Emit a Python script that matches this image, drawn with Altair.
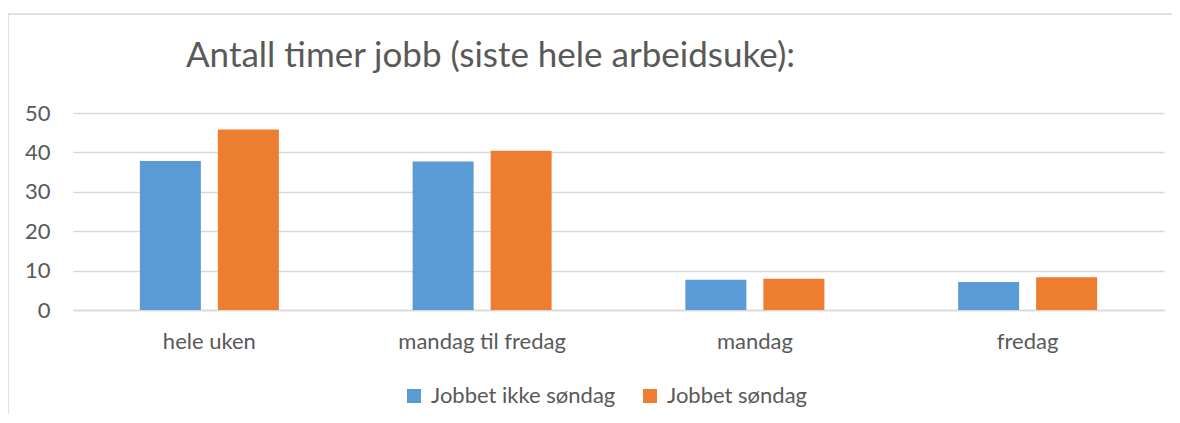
import altair as alt
import pandas as pd

categories = ["hele uken", "mandag til fredag", "mandag", "fredag"]
series = ["Jobbet ikke søndag", "Jobbet søndag"]
ikke_sondag = [37.8, 37.7, 7.7, 7.1]
sondag = [45.8, 40.4, 7.9, 8.3]
y_ticks = [0, 10, 20, 30, 40, 50]
colors = ["#5b9bd5", "#ed7d31"]
title_text = "Antall timer jobb (siste hele arbeidsuke):"

rows = []
for c, a, b in zip(categories, ikke_sondag, sondag):
    rows.append({"kategori": c, "serie": series[0], "timer": a})
    rows.append({"kategori": c, "serie": series[1], "timer": b})
df = pd.DataFrame(rows)

FONT = "Lato"
TXT = "#595959"
GRID = "#d9d9d9"

border = alt.Chart(pd.DataFrame({"a": [0]})).mark_rect(
    fill="transparent", stroke=GRID, strokeWidth=1.5
).encode(
    x=alt.value(-65), x2=alt.value(1120), y=alt.value(-99), y2=alt.value(330)
)

bars = alt.Chart(df).mark_bar().encode(
    x=alt.X(
        "kategori:N",
        sort=categories,
        scale=alt.Scale(paddingInner=0.4904, paddingOuter=0.2452),
        axis=alt.Axis(
            title=None, labelAngle=0, ticks=False, domain=True,
            domainColor=GRID, domainWidth=1.5, labelPadding=21,
            labelFontSize=22, labelColor=TXT, labelFont=FONT,
        ),
    ),
    xOffset=alt.XOffset(
        "serie:N", sort=series,
        scale=alt.Scale(paddingInner=0.218, paddingOuter=0),
    ),
    y=alt.Y(
        "timer:Q",
        scale=alt.Scale(domain=[0, 50]),
        axis=alt.Axis(
            values=y_ticks, title=None, ticks=False, domain=False,
            grid=True, gridColor=GRID, gridWidth=1.5, labelPadding=23,
            labelFontSize=22, labelColor=TXT, labelFont=FONT,
        ),
    ),
    color=alt.Color(
        "serie:N",
        sort=series,
        scale=alt.Scale(domain=series, range=colors),
        legend=alt.Legend(
            title=None, orient="none", direction="horizontal",
            legendX=330, legendY=272, symbolType="square", symbolSize=196,
            symbolStrokeWidth=0, labelFontSize=22, labelFont=FONT,
            labelColor=TXT, columnPadding=23, padding=0, labelOffset=6,
            labelLimit=400,
        ),
    ),
)

chart = alt.layer(border, bars).properties(
    width=1091,
    height=197,
    padding={"left": 65, "top": 105, "right": 8, "bottom": 104},
    autosize=alt.AutoSizeParams(type="none"),
    title=alt.Title(
        title_text, anchor="start", frame="group", dx=113,
        font=FONT, fontSize=35, fontWeight="normal", color=TXT,
        baseline="alphabetic", offset=-89,
    ),
).configure_view(stroke=None)

chart.save("out.html", embed_options={"renderer": "svg", "actions": False})
